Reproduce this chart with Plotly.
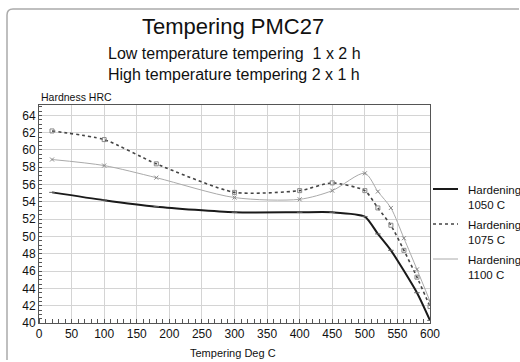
import plotly.graph_objects as go

# Data
temp_1050 = [20, 100, 180, 300, 400, 450, 500, 520, 540, 580, 600]
hrc_1050 = [55.1, 54.2, 53.45, 52.8, 52.8, 52.8, 52.3, 50.3, 48.4, 43.5, 40.3]

temp_1075 = [20, 100, 180, 300, 400, 450, 500, 520, 540, 560, 580, 600]
hrc_1075 = [62.2, 61.2, 58.4, 55.1, 55.3, 56.2, 55.3, 53.3, 51.3, 48.4, 45.3, 41.9]

temp_1100 = [20, 100, 180, 300, 400, 450, 500, 520, 540, 560, 580, 600]
hrc_1100 = [58.9, 58.2, 56.8, 54.5, 54.3, 55.3, 57.3, 55.2, 53.3, 49.8, 46.2, 42.5]

series_names = ["Hardening<br>1050 C", "Hardening<br>1075 C", "Hardening<br>1100 C"]

x_ticks = list(range(0, 601, 50))
y_ticks = list(range(40, 65, 2))

W, H = 520, 362
L, R, T, B = 39, 90, 105, 39
pw, ph = W - L - R, H - T - B

def px(x):
    return (x - L) / pw

def py(y):
    return (H - B - y) / ph

FONT = "Liberation Sans, Arial, sans-serif"

styles = [
    dict(line=dict(color="#1a1a1a", width=2, shape="spline", smoothing=0.6),
         marker=dict(symbol="line-ew", size=4, color="#666", line=dict(width=1, color="#666"))),
    dict(line=dict(color="#444", width=1.6, dash="dot", shape="spline", smoothing=0.6),
         marker=dict(symbol="square-open", size=4, color="#888", line=dict(width=1, color="#888"))),
    dict(line=dict(color="#aaa", width=1, shape="spline", smoothing=0.8),
         marker=dict(symbol="x-thin-open", size=4, color="#888", line=dict(width=1, color="#888"))),
]
data = [(temp_1050, hrc_1050), (temp_1075, hrc_1075), (temp_1100, hrc_1100)]

fig = go.Figure()
for (xs, ys), name, st in zip(data, series_names, styles):
    fig.add_trace(go.Scatter(x=xs, y=ys, mode="lines+markers", name=name,
                             line=st["line"], marker=st["marker"]))

fig.update_layout(
    width=W, height=H,
    margin=dict(l=L, r=R, t=T, b=B, pad=0, autoexpand=False),
    paper_bgcolor="white", plot_bgcolor="white",
    font=dict(family=FONT, color="#111", size=11),
    showlegend=False,
    xaxis=dict(range=[0, 600], tickvals=x_ticks, showgrid=True, gridcolor="#d4d4d4", gridwidth=1,
               ticks="", showline=True, linecolor="#555", linewidth=1, mirror=True,
               tickfont=dict(size=12), zeroline=False, automargin=False,
               minor=dict(dtick=10, ticks="inside", ticklen=4, tickcolor="#555", showgrid=False)),
    yaxis=dict(range=[40, 65.2], tickvals=y_ticks, showgrid=True, gridcolor="#d4d4d4", gridwidth=1,
               ticks="", showline=True, linecolor="#555", linewidth=1, mirror=True,
               tickfont=dict(size=12), zeroline=False, automargin=False,
               minor=dict(dtick=0.5, ticks="inside", ticklen=3, tickcolor="#555", showgrid=False)),
)

# legend drawn beside the plot
leg_rows = [189, 224, 259]
for row, name, st in zip(leg_rows, series_names, styles):
    ln = st["line"]
    fig.add_shape(type="line", xref="paper", yref="paper",
                  x0=px(433), x1=px(458), y0=py(row), y1=py(row),
                  line=dict(color=ln["color"], width=ln["width"], dash=ln.get("dash", "solid")))
    fig.add_annotation(text=name, x=px(466), y=py(row - 7), xref="paper", yref="paper",
                       xanchor="left", yanchor="top", align="left", showarrow=False,
                       font=dict(size=11.5, family=FONT, color="#111"))

annos = [
    dict(text="Tempering PMC27", x=px(233), y=py(27), size=22),
    dict(text="Low temperature tempering  1 x 2 h", x=px(234), y=py(53), size=16),
    dict(text="High temperature tempering 2 x 1 h", x=px(234), y=py(74), size=16),
]
for a in annos:
    fig.add_annotation(text=a["text"], x=a["x"], y=a["y"], xref="paper", yref="paper",
                       xanchor="center", yanchor="middle", showarrow=False,
                       font=dict(size=a["size"], family=FONT, color="#111"))
fig.add_annotation(text="Hardness HRC", x=px(39), y=py(97), xref="paper", yref="paper",
                   xanchor="left", yanchor="middle", showarrow=False,
                   font=dict(size=10.5, family=FONT, color="#111"))
fig.add_annotation(text="Tempering Deg C", x=px(233), y=py(353), xref="paper", yref="paper",
                   xanchor="center", yanchor="middle", showarrow=False,
                   font=dict(size=11, family=FONT, color="#111"))

# page frame with rounded corner
r = 6
fig.add_shape(type="path", xref="paper", yref="paper",
              path=f"M {px(7)} {py(360)} L {px(7)} {py(9 + r)} Q {px(7)} {py(9)} {px(7 + r)} {py(9)} L {px(519)} {py(9)}",
              line=dict(color="#aaa", width=1.5))

fig.write_html("out.html", config=dict(displayModeBar=False),
               post_script="document.body.style.margin='0';document.body.style.overflow='hidden';")
